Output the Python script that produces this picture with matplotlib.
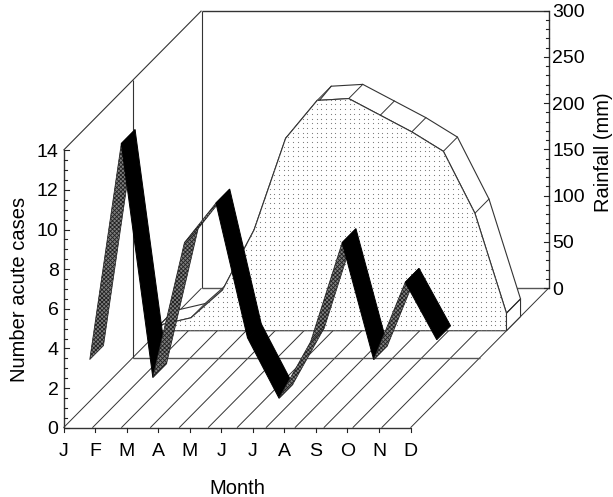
from matplotlib import pyplot as plt
from matplotlib.patches import Polygon
import numpy as np

months=["J","F","M","A","M","J","J","A","S","O","N","D"]
cases=[2.1,13.0,1.2,8.0,10.0,3.2,0.15,3.0,8.0,2.1,6.0,3.1]
rain=[6,14,44,109,208,249,251,233,215,194,127,19]
case_ticks=[0,2,4,6,8,10,12,14]
rain_ticks=[0,50,100,150,200,250,300]

plt.rcParams["font.family"]=["Liberation Sans","DejaVu Sans"]
plt.rcParams["hatch.linewidth"]=0.6

W,H=613,497
X0,Y0=63.5,427.7     #pixel position of the front corner
PX_MONTH=31.55
PX_CASE=19.82
DEPTH_X=138/PX_MONTH
DEPTH_Y=139.5/PX_CASE
MM=14/300            #rainfall axis scale, in case units
LINE="#333333"

fig=plt.figure(figsize=(W/100,H/100),dpi=100)
ax=fig.add_axes([0,0,1,1])
ax.set_xlim(-X0/PX_MONTH,(W-X0)/PX_MONTH)
ax.set_ylim(-(H-Y0)/PX_CASE,Y0/PX_CASE)
ax.axis("off")

def proj(x,y,d=0):
    #oblique projection: depth d goes from 0 (front) to 1 (back wall)
    return x+d*DEPTH_X,y+d*DEPTH_Y

def line(x1,y1,d1,x2,y2,d2,lw=0.8,z=1,color=LINE):
    a=proj(x1,y1,d1)
    b=proj(x2,y2,d2)
    ax.plot([a[0],b[0]],[a[1],b[1]],color=color,lw=lw,zorder=z,solid_capstyle="butt")

#floor
RAIN_D1,RAIN_D2=0.695,0.797
for i in range(13):
    x=i*11/12
    d=1 if i in (0,12) else RAIN_D1
    line(x,0,0,x,0,d,lw=0.7)
line(0,0,0.5,11,0,0.5,lw=1.0,color="#555555")
line(0,0,1,11,0,1,lw=1.0,color="#555555")
line(0,0,0,11,0,0,lw=1.0)

#walls
line(0,14,0,0,14,1)
line(0,0,0.5,0,14,0.5)
line(0,0,1,0,14,1)
line(0,14,1,11,14,1,lw=1.0)

#rainfall solid, front face hides the strip behind it
mx=np.arange(12)
ry=np.array(rain)*MM
fx,fy=proj(mx,ry,RAIN_D1)
bx,by=proj(mx,ry,RAIN_D2)
b0x,b0y=proj(np.array([0,11]),np.zeros(2),RAIN_D1)
b1x,b1y=proj(np.array([11]),np.zeros(1),RAIN_D2)
top=Polygon(np.column_stack([np.r_[fx,bx[::-1]],np.r_[fy,by[::-1]]]),fc="white",ec=LINE,lw=0.8,zorder=2)
ax.add_patch(top)
side=Polygon([[fx[-1],fy[-1]],[bx[-1],by[-1]],[b1x[0],b1y[0]],[b0x[1],b0y[1]]],fc="white",ec=LINE,lw=0.8,zorder=2)
ax.add_patch(side)
for i in range(12):
    ax.plot([fx[i],bx[i]],[fy[i],by[i]],color=LINE,lw=0.7,zorder=2.5)
face=Polygon(np.column_stack([np.r_[b0x[0],fx,b0x[1]],np.r_[b0y[0],fy,b0y[1]]]),fc="white",ec=LINE,lw=0.8,zorder=3)
ax.add_patch(face)

#stipple texture of the front face
gx,gy=np.meshgrid(np.arange(-3,20,4.7/PX_MONTH),np.arange(-1,20,4.7/PX_CASE))
dots=ax.scatter(gx.ravel(),gy.ravel(),s=0.7,c="#777777",linewidths=0,zorder=3.5)
dots.set_clip_path(face)

#cases ribbon
D1,D2=0.19,0.29
cy=np.array(cases,dtype=float)
for i in range(11):
    a=proj(i,cy[i],D1)
    b=proj(i+1,cy[i+1],D1)
    c=proj(i+1,cy[i+1],D2)
    e=proj(i,cy[i],D2)
    if cy[i+1]<cy[i]:
        p=Polygon([a,b,c,e],fc="black",ec="black",lw=0.7,zorder=5+i)
    else:
        p=Polygon([a,b,c,e],fc="#808080",ec="#222222",lw=0.5,hatch="xxxxxxxx",zorder=5+i)
    ax.add_patch(p)

#left axis
line(0,0,0,0,14,0,lw=1.0)
for v in np.arange(0,14.01,0.5):
    major=v in case_ticks
    ax.plot([0,(5 if major else 3)/PX_MONTH],[v,v],color="#222222",lw=0.8,zorder=1)
for v in case_ticks:
    ax.text(-5/PX_MONTH,v,str(v),ha="right",va="center_baseline",fontsize=14)

#right axis
rx,ry0=proj(11,0,1)
ax.plot([rx,rx],[ry0,ry0+300*MM],color=LINE,lw=1.0,zorder=1)
for v in np.arange(0,301,10):
    major=v in rain_ticks
    ax.plot([rx-(5 if major else 3)/PX_MONTH,rx],[ry0+v*MM]*2,color="#222222",lw=0.8,zorder=1)
for v in rain_ticks:
    ax.text(rx+3.5/PX_MONTH,ry0+v*MM,str(v),ha="left",va="center_baseline",fontsize=14)

#month axis
for i,m in enumerate(months):
    ax.plot([i,i],[0,-4.5/PX_CASE],color="#222222",lw=0.8)
    ax.text(i,-(450-Y0)/PX_CASE,m,ha="center",va="center_baseline",fontsize=14)

ax.text((237-X0)/PX_MONTH,-(487-Y0)/PX_CASE,"Month",ha="center",va="center_baseline",fontsize=14.5)
ax.text((19-X0)/PX_MONTH,(Y0-289)/PX_CASE,"Number acute cases",rotation=90,ha="center",va="center",fontsize=14.5)
ax.text((603-X0)/PX_MONTH,(Y0-152)/PX_CASE,"Rainfall (mm)",rotation=90,ha="center",va="center",fontsize=14.5)

fig.savefig("out.png",dpi=100)
